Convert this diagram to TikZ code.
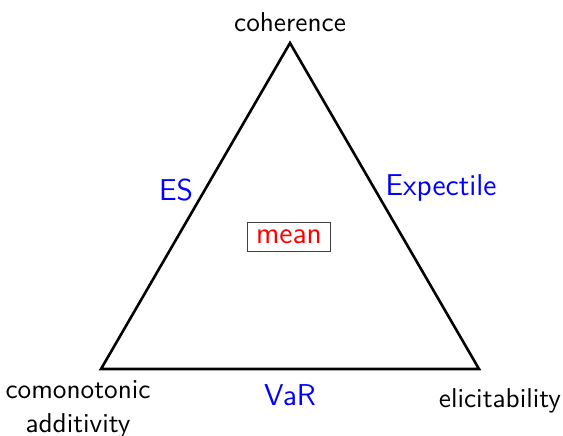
\documentclass[tikz,border=0pt]{standalone}
\usepackage{amsmath,amssymb}
\usetikzlibrary{positioning,calc}
\definecolor{prop}{RGB}{0,0,0}
\definecolor{meas}{RGB}{0,0,255}
\definecolor{both}{RGB}{255,0,0}

\begin{document}
\begin{tikzpicture}[x=0.385pt,y=-0.385pt,
  corner/.style={font=\sffamily\fontsize{10.5}{13}\selectfont,text=prop,align=center,inner sep=1pt},
  riskm/.style={font=\sffamily\fontsize{11.6}{14}\selectfont,text=meas,inner sep=1pt},
  centre/.style={font=\sffamily\fontsize{11.6}{14}\selectfont,text=both,draw=black!75,line width=0.4pt,
                 inner xsep=3.2pt,inner ysep=3pt}]
 \useasboundingbox (0,0) rectangle (563,435);
 \coordinate (top) at (290,43);
 \coordinate (bl) at (101,369);
 \coordinate (br) at (479,369);
 \draw[line width=1pt,line join=miter] (top)--(bl)--(br)--cycle;
 \node[corner,above=3pt of top] (coh) {coherence};
 \node[corner] (com) at (78,409) {comonotonic\\ additivity};
 \node[corner] (eli) at (500,401) {elicitability};
 \node[riskm] (es) at (176,190) {ES};
 \node[riskm] (exp) at (441,188) {Expectile};
 \node[riskm] (var) at (290,395) {VaR};
 \node[centre] (mean) at (289,237) {mean};
\end{tikzpicture}
\end{document}
